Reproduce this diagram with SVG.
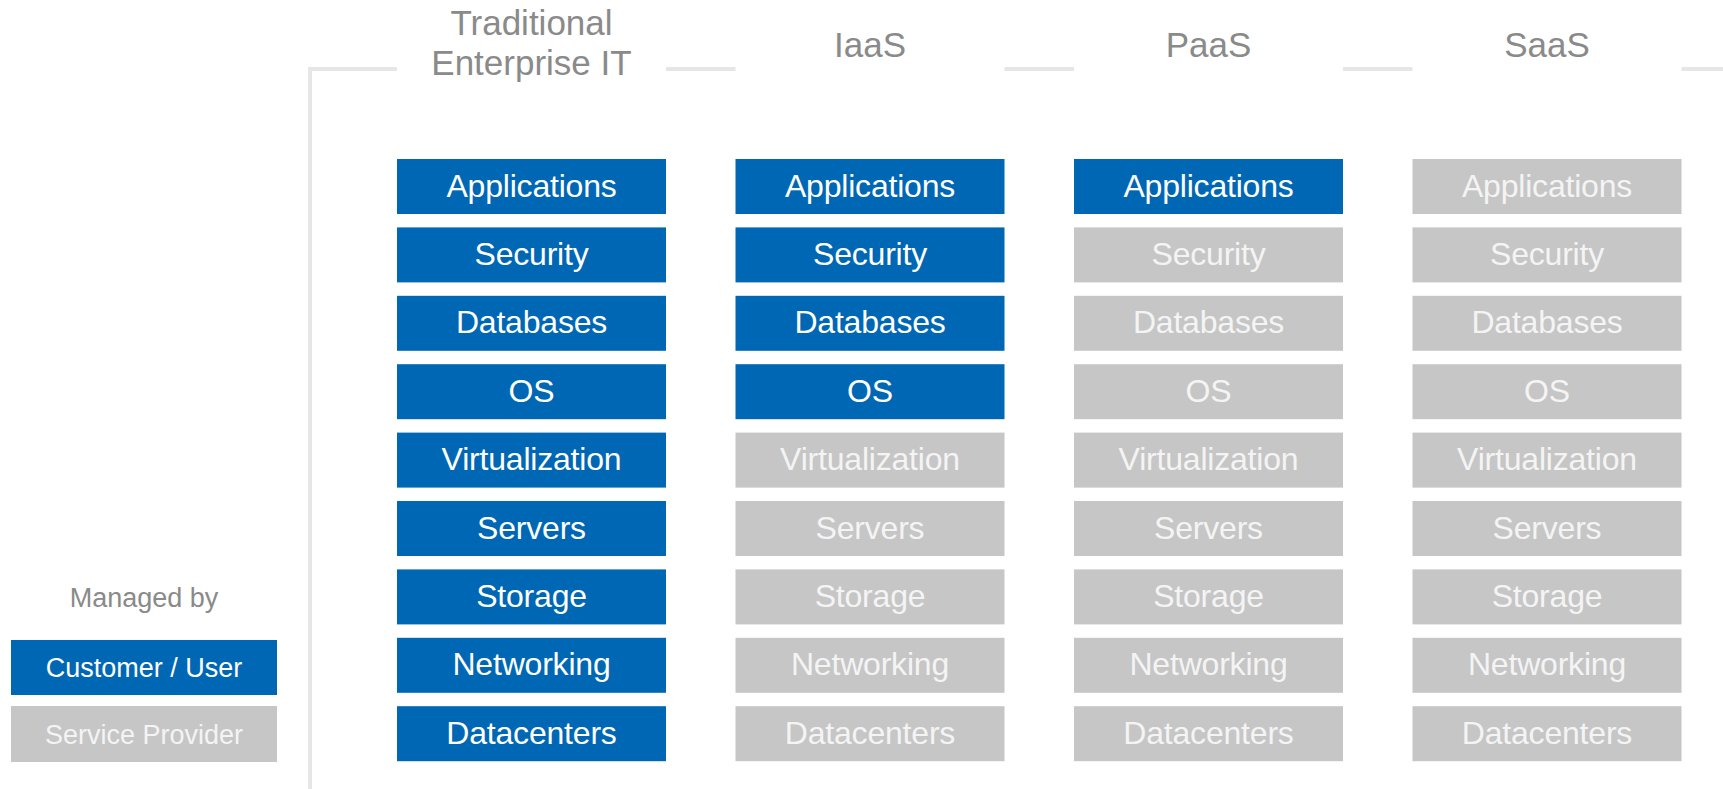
<svg xmlns="http://www.w3.org/2000/svg" width="1723" height="789" viewBox="0 0 1723 789">
  <style>
    .hdr { font-family: "Liberation Sans", Arial, sans-serif; font-size: 35px; fill: #8a8a8a; text-anchor: middle; }
    .lbl { font-family: "Liberation Sans", Arial, sans-serif; font-size: 32px; text-anchor: middle; letter-spacing: -0.2px; }
    .leg { font-family: "Liberation Sans", Arial, sans-serif; font-size: 27px; text-anchor: middle; }
    .cust rect { fill: #0067b4; }
    .cust text { fill: #ffffff; }
    .prov rect { fill: #c6c6c6; }
    .prov text { fill: #f4f4f4; }
    .frame { fill: none; stroke: #e6e6e6; stroke-width: 4; }
  </style>
  <rect width="1723" height="789" fill="#ffffff"/>

  <!-- frame lines broken by column headings -->
  <g id="connectors">
    <path class="frame" d="M310,789 V69 H397"/>
    <path class="frame" d="M666,69 H735.5"/>
    <path class="frame" d="M1004.5,69 H1074"/>
    <path class="frame" d="M1343,69 H1412.5"/>
    <path class="frame" d="M1681.5,69 H1723"/>
  </g>

  <!-- column headings -->
  <g id="headers">
    <text class="hdr" x="531.5" y="35">Traditional</text>
    <text class="hdr" x="531.5" y="75">Enterprise IT</text>
    <text class="hdr" x="870" y="57">IaaS</text>
    <text class="hdr" x="1208.5" y="57">PaaS</text>
    <text class="hdr" x="1547" y="57">SaaS</text>
  </g>

  <!-- Traditional Enterprise IT stack -->
  <g id="col-traditional">
    <g id="trad-applications" class="cust"><rect x="397" y="159" width="269" height="55"/><text class="lbl" x="531.5" y="196.5">Applications</text></g>
    <g id="trad-security" class="cust"><rect x="397" y="227.4" width="269" height="55"/><text class="lbl" x="531.5" y="264.9">Security</text></g>
    <g id="trad-databases" class="cust"><rect x="397" y="295.8" width="269" height="55"/><text class="lbl" x="531.5" y="333.3">Databases</text></g>
    <g id="trad-os" class="cust"><rect x="397" y="364.2" width="269" height="55"/><text class="lbl" x="531.5" y="401.7">OS</text></g>
    <g id="trad-virtualization" class="cust"><rect x="397" y="432.6" width="269" height="55"/><text class="lbl" x="531.5" y="470.1">Virtualization</text></g>
    <g id="trad-servers" class="cust"><rect x="397" y="501" width="269" height="55"/><text class="lbl" x="531.5" y="538.5">Servers</text></g>
    <g id="trad-storage" class="cust"><rect x="397" y="569.4" width="269" height="55"/><text class="lbl" x="531.5" y="606.9">Storage</text></g>
    <g id="trad-networking" class="cust"><rect x="397" y="637.8" width="269" height="55"/><text class="lbl" x="531.5" y="675.3">Networking</text></g>
    <g id="trad-datacenters" class="cust"><rect x="397" y="706.2" width="269" height="55"/><text class="lbl" x="531.5" y="743.7">Datacenters</text></g>
  </g>

  <!-- IaaS stack -->
  <g id="col-iaas">
    <g id="iaas-applications" class="cust"><rect x="735.5" y="159" width="269" height="55"/><text class="lbl" x="870" y="196.5">Applications</text></g>
    <g id="iaas-security" class="cust"><rect x="735.5" y="227.4" width="269" height="55"/><text class="lbl" x="870" y="264.9">Security</text></g>
    <g id="iaas-databases" class="cust"><rect x="735.5" y="295.8" width="269" height="55"/><text class="lbl" x="870" y="333.3">Databases</text></g>
    <g id="iaas-os" class="cust"><rect x="735.5" y="364.2" width="269" height="55"/><text class="lbl" x="870" y="401.7">OS</text></g>
    <g id="iaas-virtualization" class="prov"><rect x="735.5" y="432.6" width="269" height="55"/><text class="lbl" x="870" y="470.1">Virtualization</text></g>
    <g id="iaas-servers" class="prov"><rect x="735.5" y="501" width="269" height="55"/><text class="lbl" x="870" y="538.5">Servers</text></g>
    <g id="iaas-storage" class="prov"><rect x="735.5" y="569.4" width="269" height="55"/><text class="lbl" x="870" y="606.9">Storage</text></g>
    <g id="iaas-networking" class="prov"><rect x="735.5" y="637.8" width="269" height="55"/><text class="lbl" x="870" y="675.3">Networking</text></g>
    <g id="iaas-datacenters" class="prov"><rect x="735.5" y="706.2" width="269" height="55"/><text class="lbl" x="870" y="743.7">Datacenters</text></g>
  </g>

  <!-- PaaS stack -->
  <g id="col-paas">
    <g id="paas-applications" class="cust"><rect x="1074" y="159" width="269" height="55"/><text class="lbl" x="1208.5" y="196.5">Applications</text></g>
    <g id="paas-security" class="prov"><rect x="1074" y="227.4" width="269" height="55"/><text class="lbl" x="1208.5" y="264.9">Security</text></g>
    <g id="paas-databases" class="prov"><rect x="1074" y="295.8" width="269" height="55"/><text class="lbl" x="1208.5" y="333.3">Databases</text></g>
    <g id="paas-os" class="prov"><rect x="1074" y="364.2" width="269" height="55"/><text class="lbl" x="1208.5" y="401.7">OS</text></g>
    <g id="paas-virtualization" class="prov"><rect x="1074" y="432.6" width="269" height="55"/><text class="lbl" x="1208.5" y="470.1">Virtualization</text></g>
    <g id="paas-servers" class="prov"><rect x="1074" y="501" width="269" height="55"/><text class="lbl" x="1208.5" y="538.5">Servers</text></g>
    <g id="paas-storage" class="prov"><rect x="1074" y="569.4" width="269" height="55"/><text class="lbl" x="1208.5" y="606.9">Storage</text></g>
    <g id="paas-networking" class="prov"><rect x="1074" y="637.8" width="269" height="55"/><text class="lbl" x="1208.5" y="675.3">Networking</text></g>
    <g id="paas-datacenters" class="prov"><rect x="1074" y="706.2" width="269" height="55"/><text class="lbl" x="1208.5" y="743.7">Datacenters</text></g>
  </g>

  <!-- SaaS stack -->
  <g id="col-saas">
    <g id="saas-applications" class="prov"><rect x="1412.5" y="159" width="269" height="55"/><text class="lbl" x="1547" y="196.5">Applications</text></g>
    <g id="saas-security" class="prov"><rect x="1412.5" y="227.4" width="269" height="55"/><text class="lbl" x="1547" y="264.9">Security</text></g>
    <g id="saas-databases" class="prov"><rect x="1412.5" y="295.8" width="269" height="55"/><text class="lbl" x="1547" y="333.3">Databases</text></g>
    <g id="saas-os" class="prov"><rect x="1412.5" y="364.2" width="269" height="55"/><text class="lbl" x="1547" y="401.7">OS</text></g>
    <g id="saas-virtualization" class="prov"><rect x="1412.5" y="432.6" width="269" height="55"/><text class="lbl" x="1547" y="470.1">Virtualization</text></g>
    <g id="saas-servers" class="prov"><rect x="1412.5" y="501" width="269" height="55"/><text class="lbl" x="1547" y="538.5">Servers</text></g>
    <g id="saas-storage" class="prov"><rect x="1412.5" y="569.4" width="269" height="55"/><text class="lbl" x="1547" y="606.9">Storage</text></g>
    <g id="saas-networking" class="prov"><rect x="1412.5" y="637.8" width="269" height="55"/><text class="lbl" x="1547" y="675.3">Networking</text></g>
    <g id="saas-datacenters" class="prov"><rect x="1412.5" y="706.2" width="269" height="55"/><text class="lbl" x="1547" y="743.7">Datacenters</text></g>
  </g>

  <!-- legend -->
  <g id="legend">
    <text class="leg" x="144" y="607" fill="#8a8a8a">Managed by</text>
    <g id="legend-customer" class="cust"><rect x="11" y="640" width="266" height="55"/><text class="leg" x="144" y="677">Customer / User</text></g>
    <g id="legend-provider" class="prov"><rect x="11" y="706" width="266" height="56"/><text class="leg" x="144" y="744">Service Provider</text></g>
  </g>
</svg>
